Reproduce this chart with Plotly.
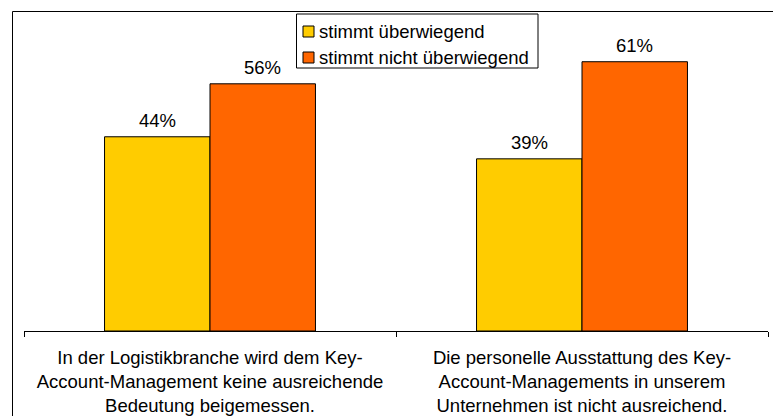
import plotly.graph_objects as go

categories = [
    "In der Logistikbranche wird dem Key-<br>Account-Management keine ausreichende<br>Bedeutung beigemessen.",
    "Die personelle Ausstattung des Key-<br>Account-Managements in unserem<br>Unternehmen ist nicht ausreichend.",
]
series_names = ["stimmt überwiegend", "stimmt nicht überwiegend"]
values_yes = [44, 39]
values_no = [56, 61]
colors = ["#FFCC00", "#FF6600"]

W, H = 773, 416
ml, mr, mt, mb = 24, 5, 22, 85
pw, ph = W - ml - mr, H - mt - mb
ymax = 70
bargap = 0.433
FONT = "Liberation Sans, Arial, Helvetica, sans-serif"
FS = 18.5

def px_x(p):
    return (p - ml) / pw

def px_y(p):
    return (H - mb - p) / ph

fig = go.Figure()
for name, vals, col in zip(series_names, [values_yes, values_no], colors):
    fig.add_trace(go.Bar(
        x=categories, y=vals, name=name,
        marker=dict(color=col, line=dict(color="#000000", width=1)),
        showlegend=False, hoverinfo="skip",
    ))

# value labels above bars
cat_w = pw / len(categories)
bar_w = cat_w * (1 - bargap) / 2
annotations = []
for i, vals in enumerate([values_yes, values_no]):
    shift = (i - 0.5) * bar_w
    for c, v in zip(categories, vals):
        annotations.append(dict(x=c, y=v, xref="x", yref="y", text=f"{v}%",
                                showarrow=False, xanchor="center", yanchor="bottom",
                                xshift=shift, yshift=4,
                                font=dict(size=FS, color="#000000", family=FONT)))

# manual legend
shapes = [dict(type="rect", xref="paper", yref="paper",
               x0=px_x(296.5), x1=px_x(538), y0=px_y(68), y1=px_y(14),
               line=dict(color="#000000", width=1), fillcolor="white")]
row_centers = [31.5, 57.5]
for name, col, yc in zip(series_names, colors, row_centers):
    shapes.append(dict(type="rect", xref="paper", yref="paper",
                       x0=px_x(303), x1=px_x(314), y0=px_y(yc + 5.5), y1=px_y(yc - 5.5),
                       line=dict(color="#000000", width=1), fillcolor=col))
    annotations.append(dict(x=px_x(317), y=px_y(yc), xref="paper", yref="paper",
                            text=name, showarrow=False, xanchor="left", yanchor="middle",
                            font=dict(size=FS, color="#000000", family=FONT)))

# outer frame (left and top edges)
shapes.append(dict(type="path", xref="paper", yref="paper",
                   path=f"M {px_x(12.5)} {px_y(430)} L {px_x(12.5)} {px_y(11.5)} L {px_x(780)} {px_y(11.5)}",
                   line=dict(color="#000000", width=1)))

fig.update_layout(
    width=W, height=H,
    margin=dict(l=ml, r=mr, t=mt, b=mb, autoexpand=False),
    paper_bgcolor="white", plot_bgcolor="white",
    font=dict(family=FONT, size=FS, color="#000000"),
    barmode="group", bargap=bargap, bargroupgap=0,
    showlegend=False, hovermode=False,
    xaxis=dict(showline=True, linecolor="#000000", linewidth=1,
               ticks="outside", tickson="boundaries", ticklen=5, tickcolor="#000000",
               showgrid=False, tickfont=dict(size=FS), automargin=False,
               ticklabelstandoff=10),
    yaxis=dict(range=[0, ymax], visible=False, showgrid=False),
    shapes=shapes,
    annotations=annotations,
)

fig.write_html("out.html", config={"displayModeBar": False},
               post_script="document.body.style.margin='0px';")
